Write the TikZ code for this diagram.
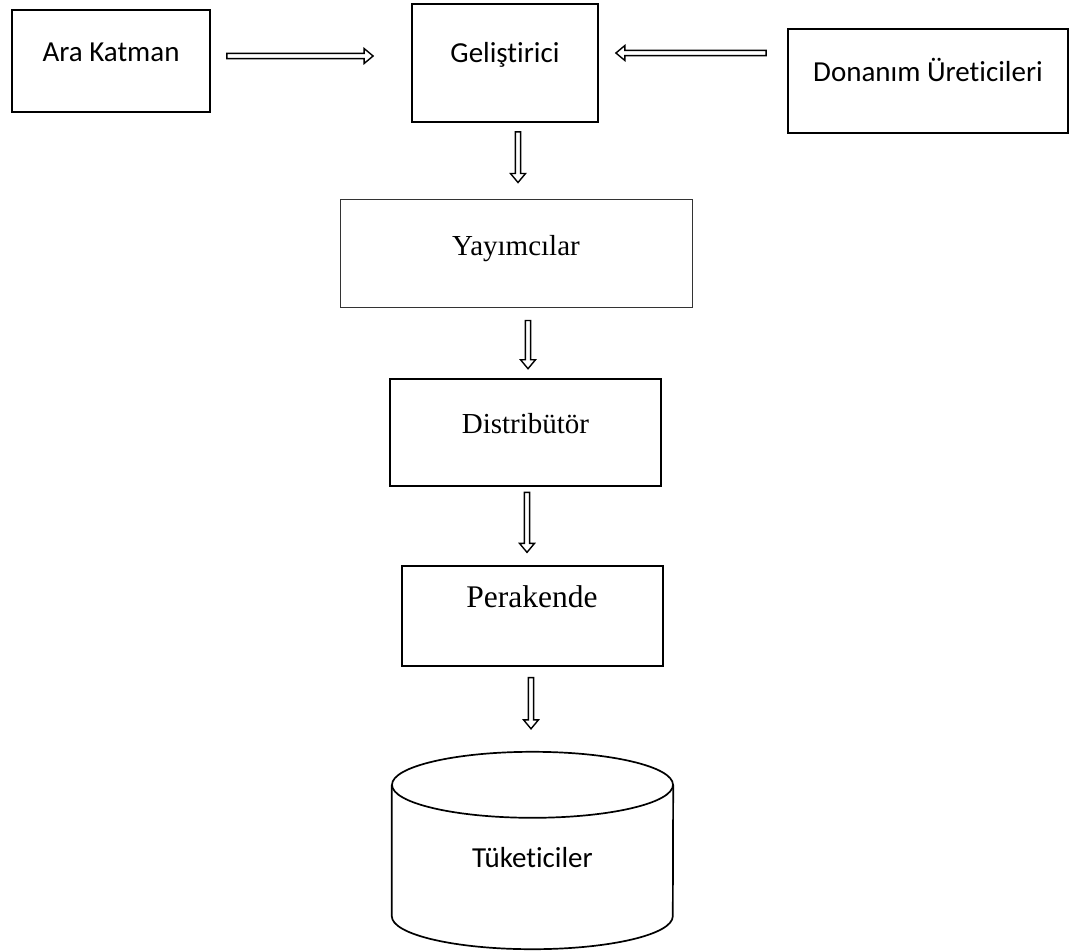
\documentclass[tikz,border=0pt]{standalone}
\usepackage{fontspec}
\setmainfont{Liberation Serif}
\newfontfamily\calfont[Ligatures=NoCommon]{Carlito}
\usetikzlibrary{calc}
\tikzset{
  box/.style={draw=black, line width=1.8pt, minimum width=#1, inner sep=0pt},
  lbl/.style={anchor=base, inner sep=0pt, font=\calfont\fontsize{29}{34}\selectfont},
  tlbl/.style={anchor=base, inner sep=0pt, font=\fontsize{29}{34}\selectfont},
  harrow/.style={draw=black, line width=1.4pt, line join=miter, fill=white,
    to path={let \p1=(\tikztostart), \p2=(\tikztotarget),
      \n1={atan2(\y2-\y1,\x2-\x1)}, \n2={veclen(\x2-\x1,\y2-\y1)} in
      {[shift={(\x1,\y1)}, rotate=\n1]
        (0,-2.6) -- (\n2/1pt-9,-2.6) -- (\n2/1pt-9,-7.5) -- (\n2/1pt,0)
        -- (\n2/1pt-9,7.5) -- (\n2/1pt-9,2.6) -- (0,2.6) -- cycle}}},
}
\begin{document}
\begin{tikzpicture}[x=1pt,y=-1pt]
\useasboundingbox (0,0) rectangle (1080,951);
% boxes
\node[box=198pt, minimum height=102pt] (ara) at (111,61) {};
\node[lbl] (araT) at (111,61) {Ara Katman};
\node[box=186pt, minimum height=118pt] (gel) at (505,63) {};
\node[lbl] (gelT) at (505,62) {Geliştirici};
\node[box=280pt, minimum height=104pt] (don) at (928,81) {};
\node[lbl] (donT) at (928,81) {Donanım Üreticileri};
\node[box=352pt, minimum height=108pt, line width=1pt, draw=black!80] (yay) at (516,253) {};
\node[tlbl] (yayT) at (516,255) {Yayımcılar};
\node[box=271pt, minimum height=107pt, line width=2.6pt] (dis) at (525.5,432.5) {};
\node[tlbl] (disT) at (525.5,433) {Distribütör};
\node[box=261pt, minimum height=100pt, line width=1.3pt] (per) at (532.5,616) {};
\node[tlbl, font=\fontsize{31.5}{36}\selectfont] (perT) at (532,607) {Perakende};
% cylinder
\node[minimum width=281pt, minimum height=197pt, inner sep=0pt] (cyl) at (532.5,850.5) {};
\draw[line width=1.7pt]
  ($(cyl.north west)+(0,33)$) -- ($(cyl.south west)+(0,-33)$)
  arc[start angle=180, end angle=360, x radius=140.5pt, y radius=33pt]
  -- ($(cyl.north east)+(0,33)$);
\draw[line width=1.7pt] ($(cyl.north)+(0,33)$) ellipse[x radius=140.5pt, y radius=33pt];
\node[lbl] (cylT) at (532.5,867) {Tüketiciler};
% connectors
\draw[harrow] ($(ara.east |- 0,56)+(16,0)$) to ($(gel.west |- 0,56)+(-38,0)$);
\draw[harrow] ($(don.west |- 0,53)+(-21,0)$) to ($(gel.east |- 0,53)+(17,0)$);
\draw[harrow] ($(gel.south -| 518,0)+(0,9)$) to ($(yay.north -| 518,0)+(0,-16)$);
\draw[harrow] ($(yay.south -| 528,0)+(0,13)$) to ($(dis.north -| 528,0)+(0,-9)$);
\draw[harrow] ($(dis.south -| 527,0)+(0,5)$) to ($(per.north -| 527,0)+(0,-13)$);
\draw[harrow] ($(per.south -| 531,0)+(0,11)$) to ($(cyl.north -| 531,0)+(0,-23)$);
\end{tikzpicture}
\end{document}
